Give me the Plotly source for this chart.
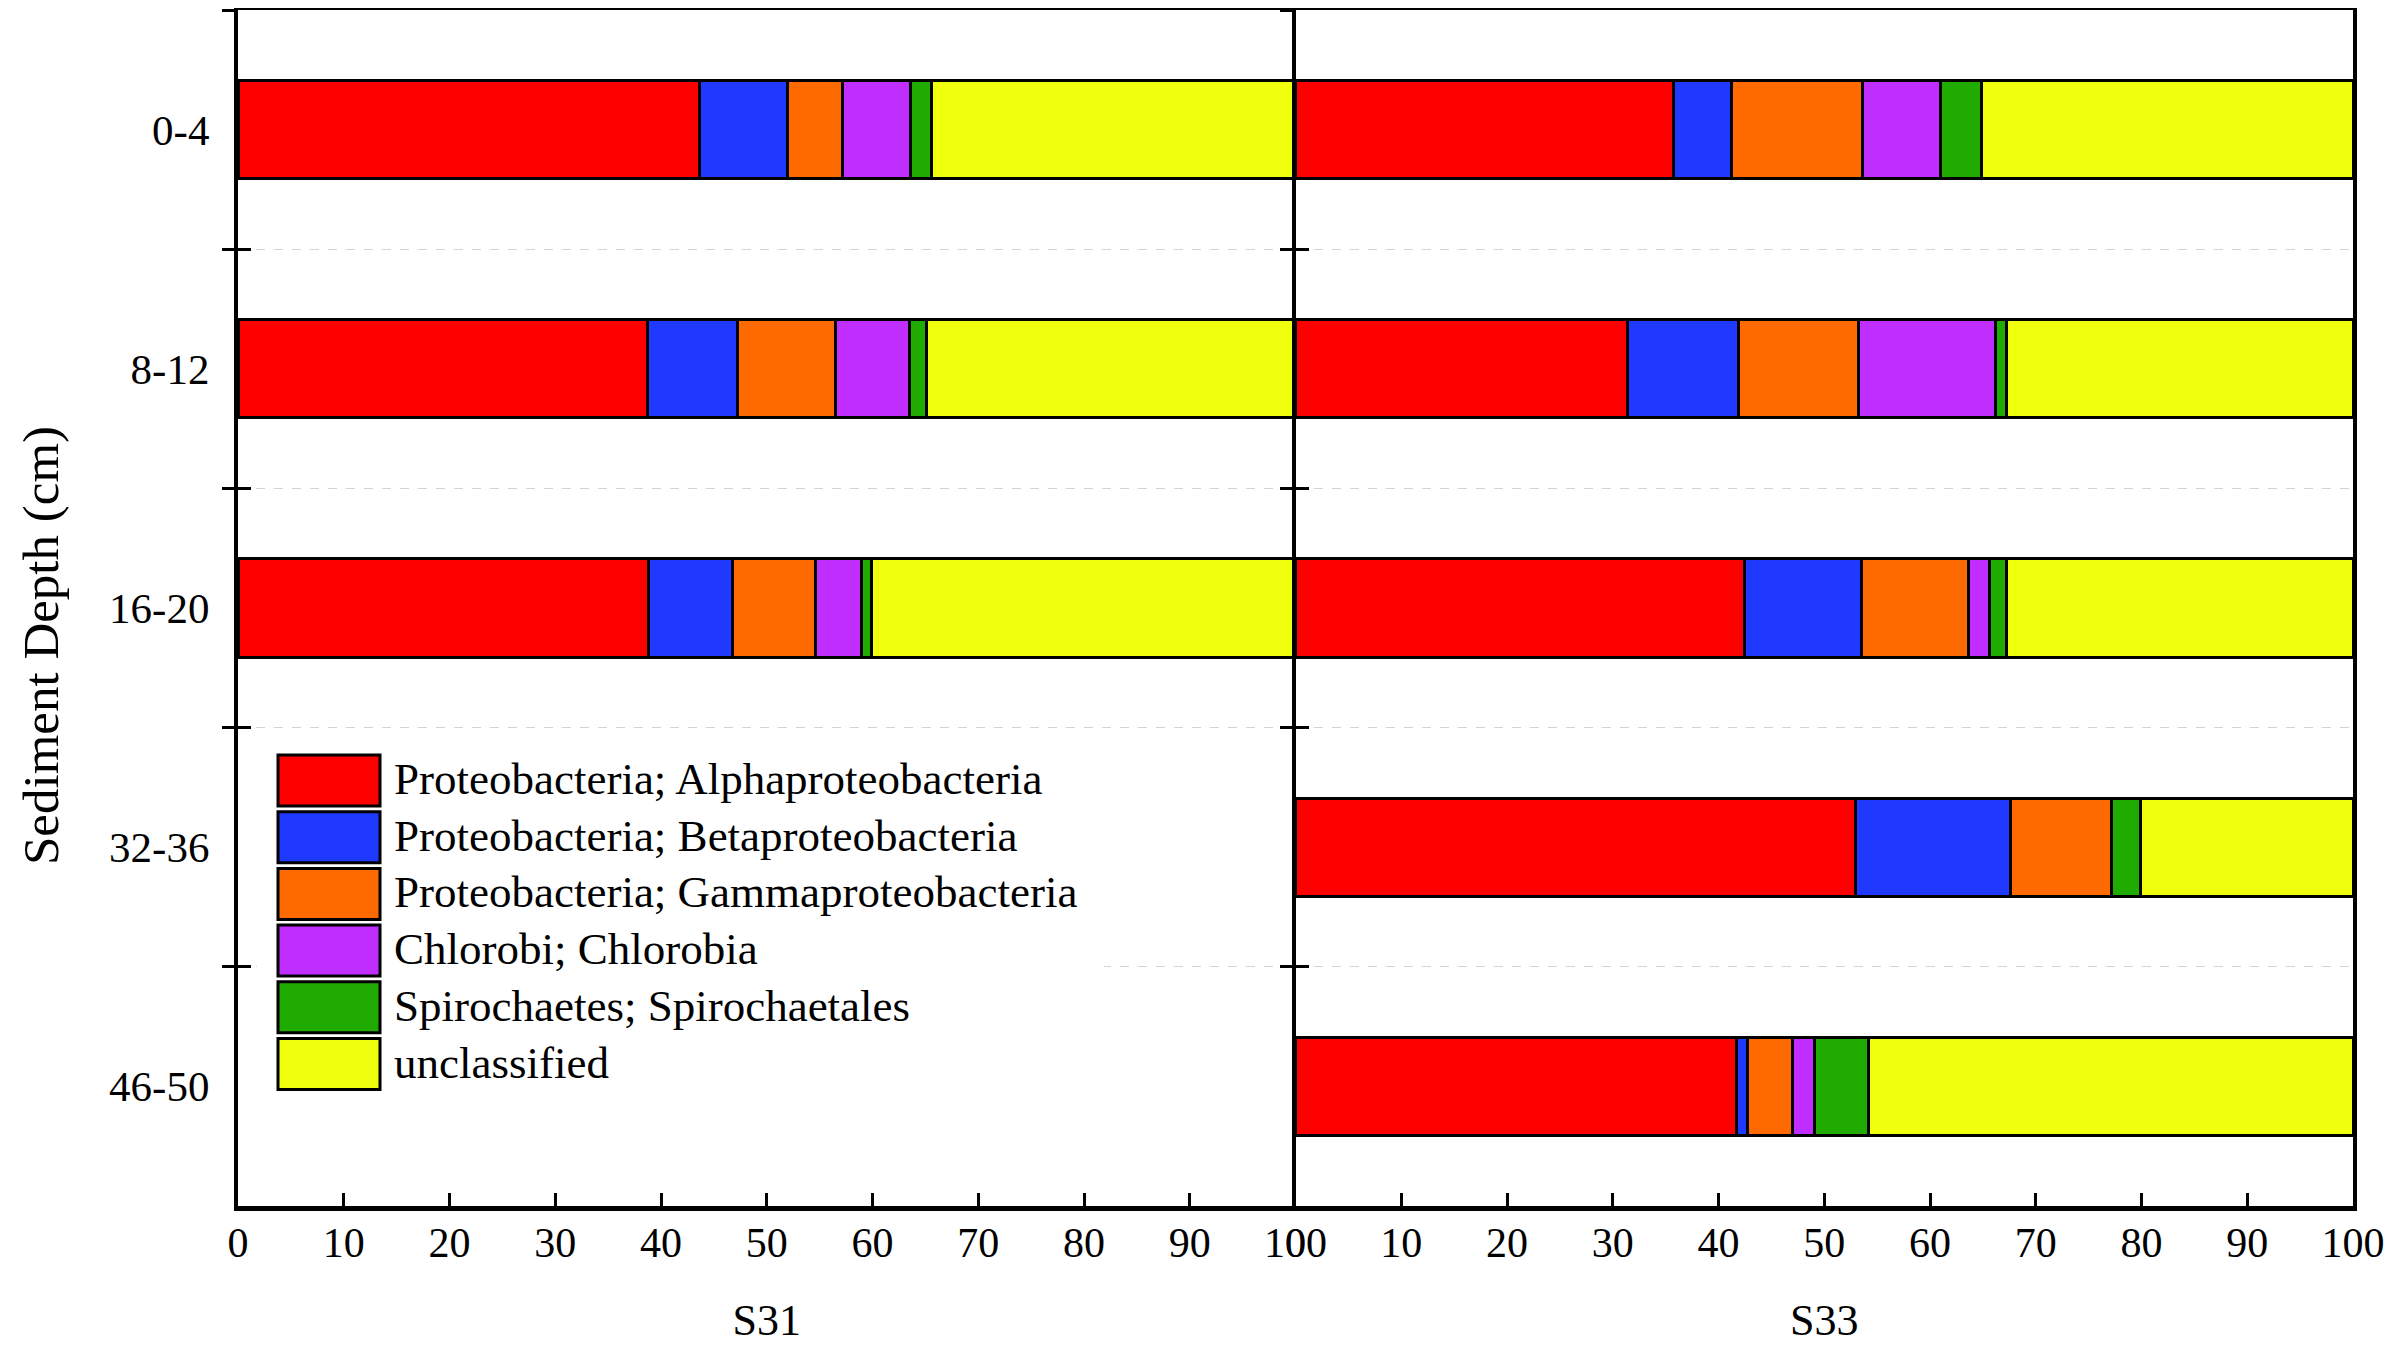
import plotly.graph_objects as go

# ---------------------------------------------------------------------------
# Data (percent of reads), depth order top -> bottom
# ---------------------------------------------------------------------------
depths = ["0-4", "8-12", "16-20", "32-36", "46-50"]
taxa = [
    "Proteobacteria; Alphaproteobacteria",
    "Proteobacteria; Betaproteobacteria",
    "Proteobacteria; Gammaproteobacteria",
    "Chlorobi; Chlorobia",
    "Spirochaetes; Spirochaetales",
    "unclassified",
]
colors = ["#ff0000", "#2039ff", "#ff6a00", "#bf2eff", "#1fab00", "#f0ff0c"]

# S31 has no samples below 20 cm
s31_alpha = [43.6, 38.7, 38.8, None, None]
s31_beta = [8.4, 8.5, 8.0, None, None]
s31_gamma = [5.2, 9.3, 7.8, None, None]
s31_chlorobia = [6.4, 7.0, 4.4, None, None]
s31_spiro = [2.0, 1.6, 0.9, None, None]
s31_unclass = [34.4, 34.9, 40.1, None, None]

s33_alpha = [35.7, 31.4, 42.5, 53.0, 41.7]
s33_beta = [5.5, 10.5, 11.0, 14.6, 1.0]
s33_gamma = [12.4, 11.3, 10.1, 9.6, 4.3]
s33_chlorobia = [7.4, 13.0, 2.0, None, 2.1]
s33_spiro = [3.9, 1.0, 1.6, 2.7, 5.1]
s33_unclass = [35.1, 32.8, 32.8, 20.1, 45.8]

x_ticks = list(range(0, 101, 10))

s31 = [s31_alpha, s31_beta, s31_gamma, s31_chlorobia, s31_spiro, s31_unclass]
s33 = [s33_alpha, s33_beta, s33_gamma, s33_chlorobia, s33_spiro, s33_unclass]

# ---------------------------------------------------------------------------
# Figure  (page body has an 8px margin, so the figure is 8px smaller)
# ---------------------------------------------------------------------------
PAGE_OFF = 8
W, H = 2400 - PAGE_OFF, 1363 - PAGE_OFF
ML, MR, MT, MB = 230, 47, 2, 157
FONT = "Liberation Serif, Times New Roman, serif"

fig = go.Figure()

for name, col, v31, v33 in zip(taxa, colors, s31, s33):
    fig.add_trace(go.Bar(x=v31, y=depths, orientation="h", name=name,
                         marker=dict(color=col, line=dict(color="black", width=3)),
                         xaxis="x", yaxis="y", showlegend=False))
    fig.add_trace(go.Bar(x=v33, y=depths, orientation="h", name=name,
                         marker=dict(color=col, line=dict(color="black", width=3)),
                         xaxis="x2", yaxis="y2", showlegend=False))

# invisible helpers so the overlay axes (inward tick halves) get drawn
for xa, ya in (("x", "y3"), ("x2", "y4")):
    fig.add_trace(go.Scatter(x=[0] * len(depths), y=depths, xaxis=xa, yaxis=ya,
                             mode="markers", marker=dict(opacity=0),
                             hoverinfo="skip", showlegend=False))

xcommon = dict(range=[0, 100], tickvals=x_ticks, ticks="inside", ticklen=13,
               tickwidth=3, tickcolor="black", showline=True, linewidth=5,
               linecolor="black", mirror=True, showgrid=False, zeroline=False,
               automargin=False, ticklabelstandoff=-4,
               tickfont=dict(family=FONT, size=42, color="black"),
               title_font=dict(family=FONT, size=44, color="black"),
               title_standoff=40)

ycommon = dict(type="category", categoryorder="array", categoryarray=depths,
               range=[4.5, -0.5], tickson="boundaries", tickwidth=3,
               tickcolor="black", zeroline=False, automargin=False)

grid = dict(showgrid=True, gridcolor="#d4d4d4", gridwidth=1, griddash="dash")

fig.update_layout(
    width=W, height=H,
    margin=dict(l=ML, r=MR, t=MT, b=MB),
    paper_bgcolor="white", plot_bgcolor="white",
    barmode="stack", bargap=0.59,
    font=dict(family=FONT, color="black"),
    xaxis=dict(domain=[0, 0.5], anchor="y", title_text="S31", **xcommon),
    xaxis2=dict(domain=[0.5, 1], anchor="y2", title_text="S33", **xcommon),
    yaxis=dict(anchor="x", ticks="outside", ticklen=12, showline=True,
               linewidth=4, linecolor="black", ticklabelstandoff=16,
               tickfont=dict(family=FONT, size=43, color="black"),
               **grid, **ycommon),
    yaxis2=dict(anchor="x2", matches="y", ticks="outside", ticklen=12,
                showline=True, linewidth=4, linecolor="black", mirror=True,
                showticklabels=False, **grid, **ycommon),
    yaxis3=dict(overlaying="y", anchor="x", side="left", ticks="inside",
                ticklen=13, showticklabels=False, showgrid=False,
                showline=False, **ycommon),
    yaxis4=dict(overlaying="y2", anchor="x2", side="left", ticks="inside",
                ticklen=13, showticklabels=False, showgrid=False,
                showline=False, **ycommon),
)


# ---------------------------------------------------------------------------
# Legend drawn by hand (wide framed swatches like the original)
# positions below are screen pixels of the 2400x1363 shot
# ---------------------------------------------------------------------------
def px_x(px):
    return (px - PAGE_OFF - ML) / (W - ML - MR)


def px_y(py):
    return (H - MB - (py - PAGE_OFF)) / (H - MT - MB)


shapes = [dict(type="rect", xref="paper", yref="paper",
               x0=px_x(257), x1=px_x(1104), y0=px_y(1102), y1=px_y(738),
               fillcolor="white", line=dict(width=0), layer="above")]
annotations = [dict(xref="paper", yref="paper", x=px_x(41), y=px_y(646),
                    text="Sediment Depth (cm)", textangle=-90, showarrow=False,
                    xanchor="center", yanchor="middle",
                    font=dict(family=FONT, size=51, color="black"))]
for i, (name, col) in enumerate(zip(taxa, colors)):
    top = 755 + 56.7 * i
    shapes.append(dict(type="rect", xref="paper", yref="paper",
                       x0=px_x(278), x1=px_x(380), y0=px_y(top + 51), y1=px_y(top),
                       fillcolor=col, line=dict(color="black", width=3),
                       layer="above"))
    annotations.append(dict(xref="paper", yref="paper", x=px_x(392),
                            y=px_y(top + 24), text=name, showarrow=False,
                            xanchor="left", yanchor="middle",
                            font=dict(family=FONT, size=45, color="black")))

fig.update_layout(shapes=shapes, annotations=annotations)

fig.write_html("out.html")
